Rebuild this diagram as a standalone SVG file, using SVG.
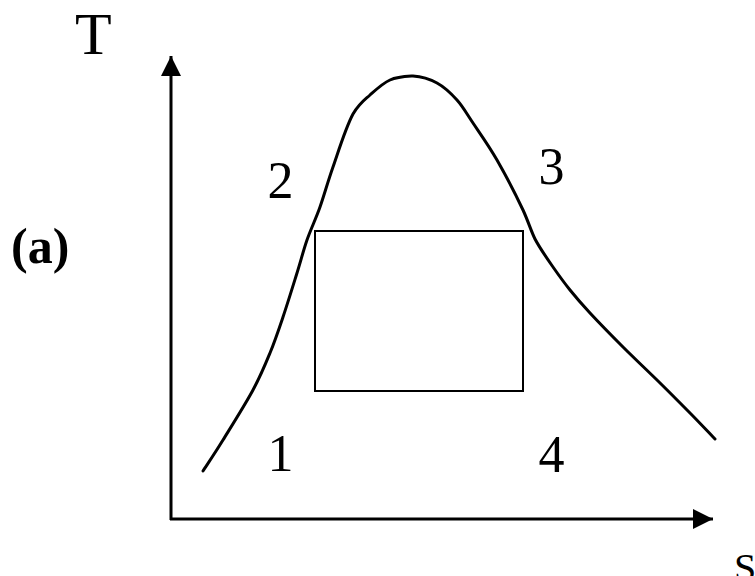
<svg xmlns="http://www.w3.org/2000/svg" width="755" height="576" viewBox="0 0 755 576">
<style>
.lbl{font-family:"Liberation Serif","Times New Roman",serif;fill:#000}
.num{font-size:52px;text-anchor:middle}
.ax{stroke:#000;stroke-width:3;fill:none}
</style>
<defs>
<marker id="arr" markerUnits="userSpaceOnUse" markerWidth="22" markerHeight="22" refX="20" refY="10" orient="auto">
<path d="M0,0 L20,10 L0,20 Z" fill="#000"/>
</marker>
</defs>
<rect width="755" height="576" fill="#fff"/>
<g id="connectors">
<line class="ax" x1="171" y1="520" x2="171" y2="56" marker-end="url(#arr)"/>
<line class="ax" x1="170" y1="519" x2="713" y2="519" marker-end="url(#arr)"/>
</g>
<g id="curve">
<path fill="none" stroke="#000" stroke-width="3" stroke-linecap="round" d="M203,471 C206.3,465.8 214.7,453.5 223,440 C231.3,426.5 245.2,404.5 253,390 C260.8,375.5 265,365.2 270,353 C275,340.8 278.5,330.3 283,317 C287.5,303.7 293,285.8 297,273 C301,260.2 303.2,251 307,240 C310.8,229 315.7,219.2 320,207 C324.3,194.8 327.5,182.7 333,167 C338.5,151.3 345.5,128 353,114 C359.5,103 363.8,100.5 370,95 C376.2,89.5 382.8,83.2 390,80 C397.2,76.8 405.2,76.5 413,76 C420.8,76.5 429.7,79 437,83 C444.3,87 451,93.3 457,100 C463,106.7 466.3,113 473,123 C479.7,133 488.7,145.5 497,160 C505.3,174.5 516.7,196.7 523,210 C528.5,222 531,231 535,239 C540,248.5 547.2,258.7 553,267 C558.8,275.3 563.8,282.3 570,290 C576.2,297.7 581.2,303.5 590,313 C598.8,322.5 611.8,335.8 623,347 C634.2,358.2 645.8,369 657,380 C668.2,391 680.3,403.2 690,413 C699.7,422.8 710.8,434.7 715,439"/>
</g>
<g id="cycle">
<rect x="315" y="231" width="208" height="160" fill="none" stroke="#000" stroke-width="2"/>
</g>
<g id="labels">
<text class="lbl" x="75" y="54" font-size="60">T</text>
<text class="lbl" x="734" y="581" font-size="40">S</text>
<text class="lbl" x="11" y="263" font-size="50" font-weight="bold">(a)</text>
<text class="lbl num" x="280.5" y="198">2</text>
<text class="lbl num" x="551.5" y="184">3</text>
<text class="lbl num" x="280.5" y="471">1</text>
<text class="lbl num" x="551.5" y="472">4</text>
</g>
</svg>
